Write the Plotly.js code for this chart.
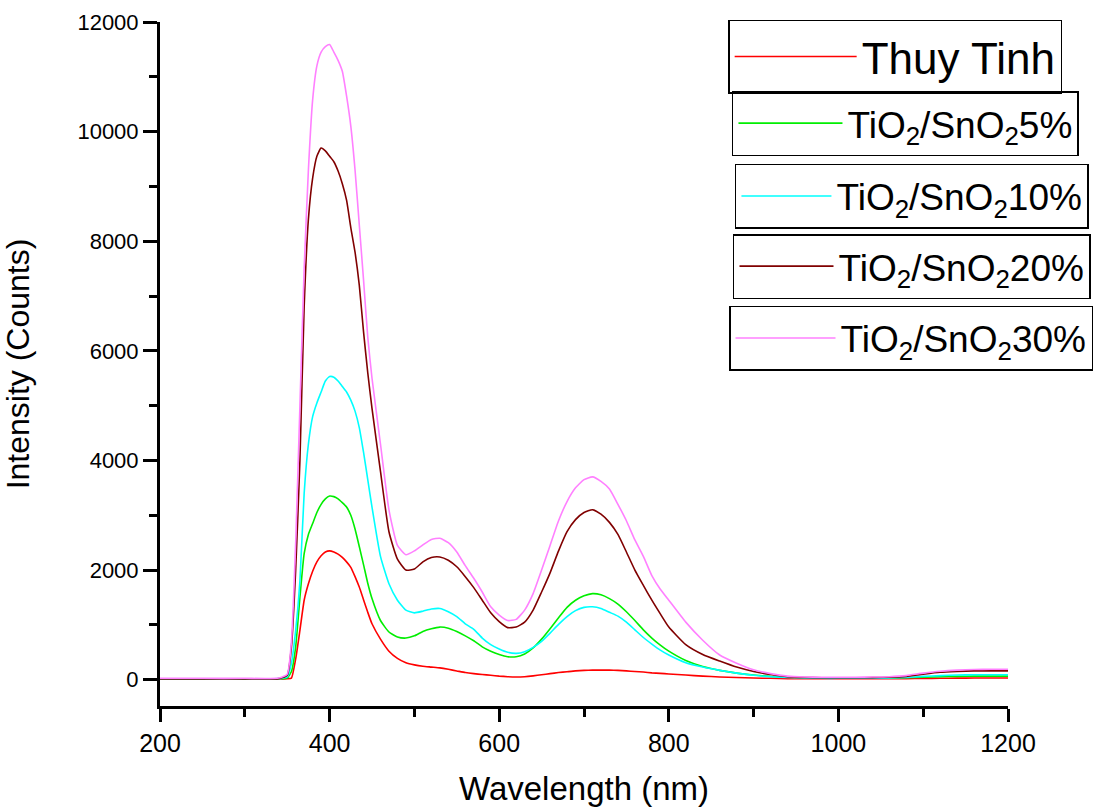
<!DOCTYPE html>
<html>
<head>
<meta charset="utf-8">
<script src="https://cdn.plot.ly/plotly-3.0.1.min.js"></script>
<style>html,body{margin:0;padding:0;background:#fff;}</style>
</head>
<body>
<div id="chart" style="width:1094px;height:811px;"></div>
<script>
// Wavelength (nm)
var wavelength = [200,250,300,340,350,355,360,365,370,375,380,385,390,395,400,405,410,415,420,425,430,435,440,445,450,460,470,480,490,500,510,520,530,540,550,560,570,580,590,600,610,620,630,640,650,660,670,680,690,700,710,720,730,740,750,760,770,780,790,800,820,840,860,880,900,920,940,960,980,1000,1020,1040,1060,1080,1100,1120,1140,1160,1180,1200];

var thuyTinh = [10,10,10,12,18,30,380,900,1450,1750,1980,2150,2260,2330,2350,2330,2290,2230,2150,2050,1880,1690,1460,1230,1020,740,520,390,310,270,245,230,215,190,160,130,110,95,80,65,55,50,55,70,90,110,130,145,160,170,175,175,175,170,160,150,140,125,115,105,85,65,50,40,30,25,20,20,20,18,18,18,18,20,22,25,28,30,30,30];

var tio5 = [15,15,15,18,30,150,600,1500,2300,2650,2850,3050,3200,3300,3350,3340,3300,3230,3150,3000,2750,2430,2100,1760,1480,1080,870,780,760,800,880,930,960,940,880,800,710,600,520,460,420,420,470,580,740,930,1130,1320,1450,1530,1570,1550,1480,1380,1240,1080,910,760,630,520,350,240,170,120,85,60,45,35,30,28,28,28,30,35,45,55,60,65,65,65];

var tio10 = [15,15,15,20,50,300,900,1800,3400,4300,4800,5050,5250,5450,5530,5520,5450,5350,5250,5100,4900,4600,4150,3650,3150,2250,1750,1450,1270,1220,1250,1290,1300,1240,1150,1020,920,760,640,560,500,480,510,590,700,850,1010,1150,1260,1320,1330,1300,1230,1160,1050,910,770,650,540,450,310,230,170,120,80,55,40,30,25,25,25,28,30,40,60,75,85,90,90,90];

var tio20 = [15,15,15,20,80,600,2000,4000,6800,8400,9150,9550,9700,9650,9550,9450,9280,9050,8750,8250,7800,7200,6350,5600,4950,3800,2700,2200,2000,2020,2150,2230,2240,2180,2060,1880,1680,1450,1220,1060,950,960,1050,1270,1600,1950,2350,2700,2920,3050,3100,3020,2870,2650,2330,2000,1720,1450,1200,960,640,460,340,230,150,95,55,40,35,35,35,38,45,60,100,135,150,160,160,160];

var tio30 = [25,25,25,30,100,700,2500,5000,7500,9300,10580,11200,11450,11550,11590,11450,11300,11100,10650,10100,9300,8300,7300,6250,5500,4300,3100,2450,2280,2350,2460,2560,2580,2500,2330,2080,1850,1600,1330,1180,1080,1100,1270,1570,2000,2450,2900,3250,3500,3650,3700,3620,3480,3200,2900,2550,2250,1900,1650,1450,1050,720,450,300,180,110,65,50,45,45,45,48,55,75,120,155,175,185,190,190];

var seriesNames = ["Thuy Tinh","TiO<sub>2</sub>/SnO<sub>2</sub>5%","TiO<sub>2</sub>/SnO<sub>2</sub>10%","TiO<sub>2</sub>/SnO<sub>2</sub>20%","TiO<sub>2</sub>/SnO<sub>2</sub>30%"];
var seriesValues = [thuyTinh, tio5, tio10, tio20, tio30];
var seriesColors = ["#ff0000","#00ee00","#00ffff","#800000","#ff80ff"];
var legendIds = ["legend","legend2","legend3","legend4","legend5"];

var traces = seriesValues.map(function(v,i){
  return {
    x: wavelength, y: v, type: "scatter", mode: "lines",
    name: seriesNames[i],
    line: {color: seriesColors[i], width: 1.6, shape: "spline", smoothing: 0.5},
    legend: legendIds[i]
  };
});

var FONT = "Liberation Sans, Arial, sans-serif";
function mkLegend(x, y, size, iw){
  return {
    x: x, y: y, xanchor: "left", yanchor: "top",
    bordercolor: "#000", borderwidth: 1.5, bgcolor: "rgba(255,255,255,0)",
    font: {family: FONT, size: size, color: "#000"},
    itemwidth: iw, tracegroupgap: 0
  };
}

var layout = {
  width: 1094, height: 811,
  paper_bgcolor: "#fff", plot_bgcolor: "#fff",
  margin: {l: 160, r: 86, t: 22, b: 105, autoexpand: false},
  font: {family: FONT, color: "#000"},
  xaxis: {
    range: [200, 1200], dtick: 200, tick0: 200, tickformat: "d",
    showline: true, linecolor: "#000", linewidth: 3,
    ticks: "outside", ticklen: 13, tickwidth: 3, tickcolor: "#000",
    minor: {dtick: 100, ticks: "outside", ticklen: 8, tickwidth: 3, tickcolor: "#000", showgrid: false},
    showgrid: false, zeroline: false, mirror: false,
    tickfont: {family: FONT, size: 25, color: "#000"},
    title: {text: "Wavelength (nm)", font: {family: FONT, size: 33, color: "#000"}, standoff: 21},
    automargin: false
  },
  yaxis: {
    range: [-480, 12000], dtick: 2000, tick0: 0, tickformat: "d",
    showline: true, linecolor: "#000", linewidth: 3,
    ticks: "outside", ticklen: 14, tickwidth: 3, tickcolor: "#000",
    minor: {dtick: 1000, ticks: "outside", ticklen: 8, tickwidth: 3, tickcolor: "#000", showgrid: false},
    showgrid: false, zeroline: false, mirror: false,
    tickfont: {family: FONT, size: 22, color: "#000"},
    title: {text: "Intensity (Counts)", font: {family: FONT, size: 32, color: "#000"}, standoff: 55},
    automargin: false
  },
  showlegend: true,
  legend: mkLegend(0.67, 1.003, 44, 122),
  legend2: mkLegend(0.6745, 0.899, 37, 104),
  legend3: mkLegend(0.678, 0.7924, 37, 90),
  legend4: mkLegend(0.6757, 0.690, 37, 94),
  legend5: mkLegend(0.671, 0.5848, 37, 100)
};

Plotly.newPlot("chart", traces, layout, {displayModeBar: false, staticPlot: true});
</script>
</body>
</html>
